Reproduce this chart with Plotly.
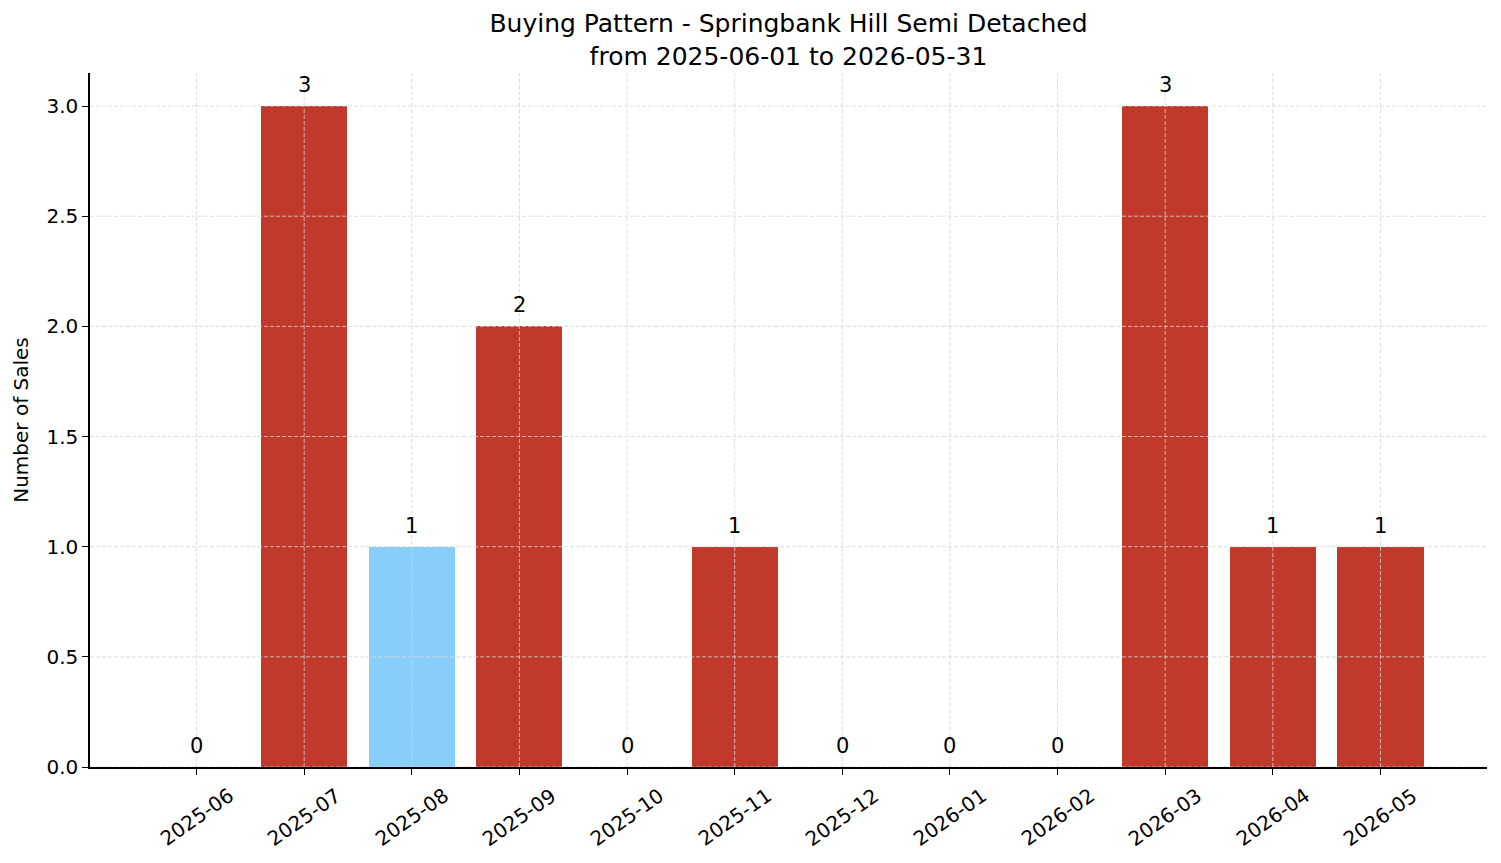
import plotly.graph_objects as go

months = ["2025-06", "2025-07", "2025-08", "2025-09", "2025-10", "2025-11",
          "2025-12", "2026-01", "2026-02", "2026-03", "2026-04", "2026-05"]
sales = [0, 3, 1, 2, 0, 1, 0, 0, 0, 3, 1, 1]
highlight_month = "2025-08"
base_color = "#c0392b"
highlight_color = "#87cefa"
y_ticks = [0.0, 0.5, 1.0, 1.5, 2.0, 2.5, 3.0]

colors = [highlight_color if m == highlight_month else base_color for m in months]
idx = list(range(len(months)))

fig = go.Figure()
fig.add_trace(go.Bar(x=idx, y=sales, marker=dict(color=colors, line=dict(width=0)),
                     width=0.8, showlegend=False, hoverinfo="skip"))

annotations = []
for i, v in zip(idx, sales):
    annotations.append(dict(x=i, y=v, xref="x", yref="y", text=str(v), showarrow=False,
                            xanchor="center", yanchor="bottom", yshift=7,
                            font=dict(family="DejaVu Sans", size=21, color="black")))
# rotated, centred tick labels (matplotlib style)
for i, m in zip(idx, months):
    annotations.append(dict(x=i, y=0, xref="x", yref="paper", text=m, showarrow=False,
                            textangle=-35, xanchor="center", yanchor="top", yshift=-13,
                            font=dict(family="DejaVu Sans", size=20, color="black")))

shapes = []
grid = dict(color="#d6d6d6", width=0.8, dash="4px,2px")
for i in idx:
    shapes.append(dict(type="line", xref="x", yref="paper", x0=i, x1=i, y0=0, y1=1,
                       line=grid, layer="above"))
for t in y_ticks:
    shapes.append(dict(type="line", xref="paper", yref="y", x0=0, x1=1, y0=t, y1=t,
                       line=grid, layer="above"))

fig.update_layout(
    width=1501, height=863,
    margin=dict(l=90, r=14, t=73, b=96),
    plot_bgcolor="white", paper_bgcolor="white",
    font=dict(family="DejaVu Sans", color="black", size=20),
    title=dict(text="Buying Pattern - Springbank Hill Semi Detached<br>from 2025-06-01 to 2026-05-31",
               x=0.5253, xanchor="center", yref="container", y=1 - 32 / 863, yanchor="bottom",
               font=dict(size=25, family="DejaVu Sans")),
    shapes=shapes,
    annotations=annotations,
    bargap=0,
)
fig.update_xaxes(range=[-0.99, 11.99], tickmode="array", tickvals=idx, ticktext=months,
                 showticklabels=False, showgrid=False, showline=True, linecolor="black",
                 linewidth=1.5, ticks="outside", ticklen=6, tickwidth=1.2, tickcolor="black",
                 zeroline=False)
fig.update_yaxes(range=[0, 3.15], tickmode="array", tickvals=y_ticks,
                 ticktext=[f"{t:.1f}" for t in y_ticks],
                 showgrid=False, showline=True, linecolor="black", linewidth=1.5,
                 ticks="outside", ticklen=6, tickwidth=1.2, tickcolor="black",
                 zeroline=False, tickfont=dict(size=20),
                 title=dict(text="Number of Sales", font=dict(size=20), standoff=12))

fig.write_html("out.html")
